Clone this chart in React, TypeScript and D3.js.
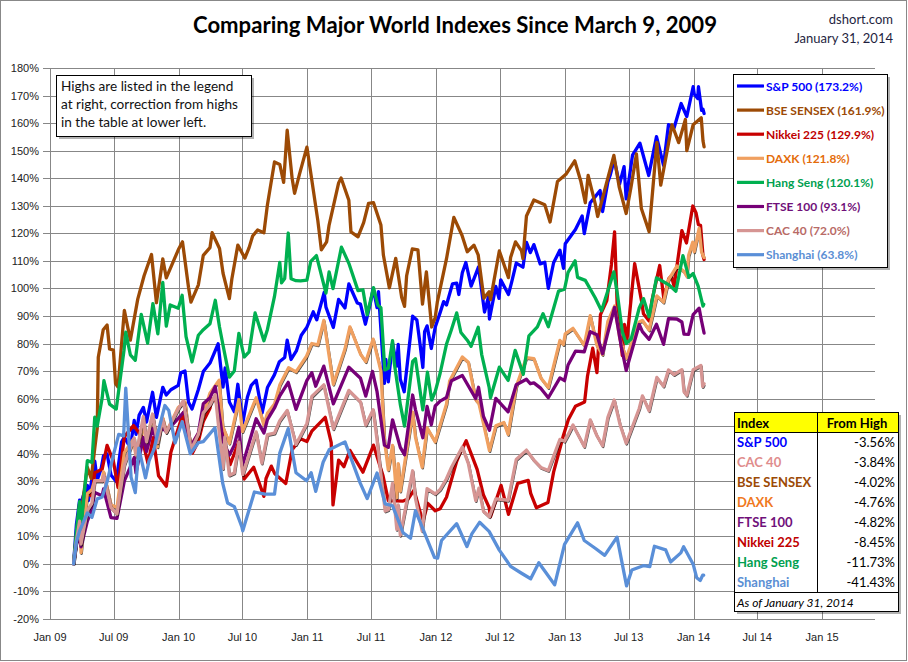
import React from 'react';
import * as d3 from 'd3';

type Pt = [string, number];

const spx: Pt[] = [["2009-03-09",0],["2009-03-17",14.4],["2009-03-26",23.1],["2009-03-30",16.4],["2009-04-02",23.3],["2009-04-09",26.3],["2009-04-17",28.5],["2009-04-20",23.0],["2009-05-08",37.3],["2009-05-15",30.5],["2009-05-26",34.5],["2009-06-02",39.3],["2009-06-12",39.9],["2009-06-23",32.3],["2009-07-08",29.9],["2009-07-23",44.2],["2009-07-31",46.0],["2009-08-17",42.2],["2009-08-28",52.1],["2009-09-02",47.0],["2009-09-11",54.0],["2009-09-23",56.8],["2009-10-02",51.5],["2009-10-19",62.3],["2009-10-30",53.2],["2009-11-17",64.1],["2009-11-27",61.3],["2009-12-10",63.2],["2009-12-31",64.8],["2010-01-07",69.4],["2010-01-19",70.0],["2010-01-29",58.7],["2010-02-08",56.2],["2010-02-26",63.3],["2010-03-12",69.8],["2010-03-31",72.9],["2010-04-23",79.9],["2010-05-07",64.2],["2010-05-13",71.1],["2010-05-25",58.8],["2010-06-08",55.2],["2010-06-18",65.2],["2010-07-02",51.2],["2010-07-15",60.5],["2010-07-26",64.8],["2010-08-09",66.7],["2010-08-26",54.8],["2010-09-10",64.0],["2010-09-30",68.7],["2010-10-14",73.4],["2010-10-29",74.9],["2010-11-05",81.2],["2010-11-16",74.2],["2010-12-01",77.3],["2010-12-15",83.0],["2010-12-31",85.9],["2011-01-18",91.5],["2011-01-28",88.6],["2011-01-31",90.1],["2011-02-18",98.5],["2011-02-23",93.2],["2011-03-16",85.8],["2011-03-31",96.0],["2011-04-18",92.9],["2011-04-29",101.6],["2011-05-23",94.7],["2011-06-01",94.3],["2011-06-15",87.0],["2011-06-30",95.2],["2011-07-07",100.0],["2011-07-18",93.0],["2011-07-22",98.8],["2011-08-08",65.5],["2011-08-12",74.2],["2011-08-19",66.1],["2011-08-31",80.2],["2011-09-12",71.8],["2011-09-16",79.7],["2011-09-22",67.0],["2011-10-03",62.5],["2011-10-27",89.9],["2011-11-08",88.5],["2011-11-17",79.8],["2011-11-25",71.3],["2011-11-30",84.3],["2011-12-07",86.4],["2011-12-19",78.2],["2011-12-30",85.9],["2012-01-13",91.2],["2012-01-23",95.2],["2012-01-31",94.0],["2012-02-17",101.6],["2012-02-29",101.9],["2012-03-06",97.8],["2012-03-16",105.7],["2012-03-26",109.4],["2012-04-10",100.8],["2012-05-01",107.8],["2012-05-18",91.4],["2012-05-29",96.9],["2012-06-01",88.9],["2012-06-19",100.7],["2012-06-28",96.4],["2012-07-03",103.1],["2012-07-25",97.8],["2012-08-03",102.3],["2012-08-16",109.2],["2012-09-04",107.7],["2012-09-14",116.7],["2012-09-25",113.0],["2012-10-05",115.9],["2012-10-23",108.9],["2012-11-05",109.5],["2012-11-15",100.0],["2012-11-30",109.3],["2012-12-18",113.9],["2012-12-28",107.3],["2013-01-02",116.2],["2013-01-31",121.4],["2013-02-19",126.3],["2013-02-25",119.9],["2013-03-14",131.1],["2013-04-11",135.5],["2013-04-18",127.9],["2013-05-03",138.6],["2013-05-10",141.3],["2013-05-21",146.7],["2013-06-05",137.8],["2013-06-18",144.2],["2013-06-24",132.5],["2013-07-12",148.4],["2013-08-02",152.7],["2013-08-27",141.0],["2013-09-18",155.1],["2013-10-08",144.7],["2013-10-22",159.4],["2013-11-07",158.3],["2013-11-27",167.1],["2013-12-03",165.3],["2013-12-13",162.4],["2013-12-31",173.2],["2014-01-03",170.6],["2014-01-13",168.9],["2014-01-15",173.2],["2014-01-24",164.6],["2014-01-28",165.0],["2014-01-31",163.5]];

const sensex: Pt[] = [["2009-03-09",0],["2009-03-17",7.5],["2009-03-26",18.5],["2009-03-31",19.0],["2009-04-17",35.1],["2009-04-28",31.0],["2009-05-08",42.0],["2009-05-15",49.2],["2009-05-18",75.0],["2009-06-01",85.0],["2009-06-12",86.7],["2009-06-19",78.0],["2009-06-30",77.6],["2009-07-06",65.5],["2009-07-13",64.2],["2009-07-31",92.0],["2009-08-17",81.2],["2009-09-07",96.1],["2009-09-25",104.6],["2009-10-16",112.3],["2009-10-30",94.8],["2009-11-17",110.7],["2009-11-27",103.8],["2009-12-31",114.0],["2010-01-12",116.9],["2010-01-29",100.4],["2010-02-05",95.0],["2010-02-26",101.3],["2010-03-12",112.0],["2010-03-31",114.8],["2010-04-06",120.2],["2010-04-27",114.5],["2010-05-07",105.5],["2010-05-25",96.3],["2010-06-01",103.4],["2010-06-18",115.7],["2010-07-08",111.0],["2010-07-20",114.8],["2010-07-30",119.0],["2010-08-13",121.2],["2010-08-31",120.2],["2010-09-10",130.4],["2010-09-30",145.9],["2010-10-15",145.0],["2010-10-26",138.5],["2010-11-05",157.4],["2010-11-19",140.0],["2010-11-26",134.5],["2010-12-10",141.5],["2010-12-31",151.3],["2011-01-31",124.6],["2011-02-10",114.0],["2011-02-25",116.9],["2011-03-04",123.0],["2011-03-31",138.3],["2011-04-07",140.1],["2011-04-29",132.0],["2011-05-05",120.5],["2011-05-25",118.7],["2011-06-10",123.9],["2011-06-24",130.9],["2011-07-08",131.1],["2011-07-29",123.0],["2011-08-05",112.1],["2011-08-22",100.2],["2011-09-09",110.9],["2011-09-26",96.7],["2011-10-04",93.5],["2011-10-10",104.6],["2011-10-26",114.3],["2011-11-11",114.0],["2011-11-24",94.3],["2011-12-05",106.0],["2011-12-20",86.0],["2011-12-30",89.4],["2012-01-05",95.0],["2012-01-31",110.7],["2012-02-21",125.8],["2012-03-15",119.3],["2012-03-30",113.3],["2012-04-18",115.7],["2012-04-30",112.2],["2012-05-16",96.4],["2012-05-31",98.8],["2012-06-04",95.9],["2012-06-29",113.6],["2012-07-25",103.9],["2012-07-31",111.2],["2012-08-14",116.9],["2012-08-31",113.6],["2012-09-04",110.8],["2012-09-14",126.3],["2012-10-05",132.1],["2012-11-05",130.4],["2012-11-20",124.1],["2012-12-11",138.8],["2013-01-04",141.4],["2013-01-29",146.3],["2013-02-15",139.0],["2013-02-28",131.1],["2013-03-08",141.0],["2013-03-28",130.8],["2013-04-04",126.1],["2013-04-18",132.8],["2013-05-20",148.3],["2013-06-04",136.9],["2013-06-24",127.2],["2013-07-08",137.0],["2013-07-23",148.8],["2013-08-06",129.0],["2013-08-28",120.6],["2013-09-19",153.0],["2013-09-30",137.5],["2013-11-01",159.4],["2013-11-20",152.9],["2013-12-09",161.3],["2013-12-13",150.0],["2013-12-31",159.4],["2014-01-23",161.9],["2014-01-28",153.5],["2014-01-31",151.4]];

const nikkei: Pt[] = [["2009-03-09",0],["2009-03-17",10.5],["2009-03-26",21.9],["2009-03-31",14.4],["2009-04-17",25.7],["2009-04-30",24.6],["2009-05-08",33.1],["2009-05-29",34.4],["2009-06-12",43.0],["2009-06-30",37.2],["2009-07-13",27.7],["2009-07-31",46.2],["2009-08-26",50.2],["2009-09-18",46.3],["2009-10-06",36.5],["2009-10-21",45.8],["2009-11-05",32.0],["2009-11-27",28.2],["2009-12-10",40.5],["2009-12-30",48.8],["2010-01-15",55.0],["2010-01-29",43.9],["2010-02-09",40.2],["2010-02-26",44.5],["2010-03-12",51.7],["2010-03-31",56.5],["2010-04-05",60.0],["2010-04-27",58.2],["2010-05-07",46.3],["2010-05-27",36.0],["2010-06-21",44.5],["2010-07-06",30.8],["2010-08-02",35.1],["2010-08-31",24.5],["2010-09-06",31.0],["2010-09-21",35.5],["2010-10-01",32.7],["2010-11-01",29.2],["2010-11-19",41.4],["2010-12-13",45.4],["2010-12-31",44.4],["2011-01-14",48.2],["2011-02-21",53.2],["2011-03-10",44.0],["2011-03-15",21.4],["2011-03-31",37.7],["2011-04-15",35.3],["2011-05-02",41.2],["2011-06-08",33.3],["2011-07-08",43.1],["2011-08-04",32.0],["2011-08-19",23.0],["2011-09-30",22.8],["2011-10-14",23.5],["2011-10-31",26.8],["2011-11-25",15.2],["2011-12-09",22.0],["2011-12-30",19.3],["2012-01-13",20.0],["2012-01-31",24.2],["2012-02-29",37.2],["2012-03-09",40.0],["2012-03-27",44.7],["2012-04-27",34.3],["2012-05-15",25.0],["2012-05-31",20.5],["2012-06-04",17.1],["2012-07-04",28.5],["2012-07-25",18.0],["2012-08-20",29.2],["2012-09-19",30.3],["2012-09-26",25.6],["2012-10-12",20.4],["2012-11-14",22.3],["2012-11-30",33.3],["2012-12-28",46.7],["2013-01-11",52.4],["2013-01-31",57.2],["2013-02-26",58.8],["2013-03-06",68.0],["2013-03-21",78.3],["2013-04-02",69.4],["2013-04-12",90.5],["2013-04-30",95.6],["2013-05-13",108.6],["2013-05-22",120.5],["2013-05-30",91.8],["2013-06-13",75.6],["2013-06-19",86.9],["2013-06-26",81.1],["2013-07-18",109.0],["2013-08-07",95.1],["2013-08-12",90.8],["2013-08-28",88.2],["2013-09-05",95.6],["2013-09-27",108.3],["2013-10-09",96.1],["2013-10-23",103.6],["2013-10-30",104.6],["2013-11-07",100.8],["2013-11-29",121.0],["2013-12-12",116.5],["2013-12-30",129.9],["2014-01-08",127.5],["2014-01-15",123.1],["2014-01-21",122.9],["2014-01-28",111.8],["2014-01-31",110.5]];

const daxk: Pt[] = [["2009-03-09",0],["2009-03-17",8.0],["2009-03-26",15.3],["2009-03-30",4.1],["2009-04-17",25.5],["2009-04-30",27.0],["2009-05-08",30.2],["2009-05-29",30.1],["2009-06-02",33.4],["2009-06-23",21.5],["2009-07-10",20.5],["2009-07-31",40.4],["2009-08-26",45.3],["2009-09-02",39.0],["2009-09-22",51.0],["2009-10-02",43.7],["2009-10-19",54.1],["2009-11-02",42.5],["2009-11-17",53.0],["2009-11-27",47.8],["2009-12-31",56.8],["2010-01-19",58.8],["2010-01-29",47.6],["2010-02-05",43.0],["2010-02-26",47.4],["2010-03-12",54.0],["2010-03-31",62.0],["2010-04-26",66.7],["2010-05-06",49.9],["2010-05-25",43.8],["2010-06-21",59.6],["2010-07-01",48.0],["2010-08-09",60.3],["2010-08-31",50.3],["2010-09-10",54.7],["2010-09-30",58.0],["2010-10-15",64.9],["2010-11-09",71.2],["2010-11-30",69.7],["2010-12-30",75.4],["2011-01-14",80.0],["2011-01-31",79.5],["2011-02-17",88.4],["2011-03-16",65.2],["2011-04-18",78.0],["2011-05-02",86.0],["2011-06-01",76.2],["2011-06-16",73.4],["2011-07-07",81.6],["2011-07-29",70.0],["2011-08-08",44.9],["2011-08-19",34.1],["2011-08-31",43.0],["2011-09-12",24.1],["2011-09-16",36.4],["2011-09-22",26.4],["2011-10-27",55.1],["2011-11-04",46.0],["2011-11-23",35.1],["2011-12-07",49.4],["2011-12-30",44.3],["2012-01-13",50.3],["2012-01-31",58.0],["2012-02-09",66.4],["2012-03-16",75.1],["2012-04-02",73.2],["2012-04-23",59.6],["2012-05-02",58.3],["2012-05-15",51.0],["2012-06-01",41.1],["2012-06-19",50.1],["2012-07-12",51.3],["2012-07-24",47.0],["2012-08-16",64.4],["2012-09-14",74.9],["2012-10-05",74.5],["2012-10-25",67.5],["2012-11-15",64.0],["2012-12-18",81.1],["2012-12-28",79.6],["2013-01-02",83.5],["2013-01-24",85.5],["2013-02-25",79.3],["2013-03-14",90.1],["2013-04-02",79.3],["2013-04-18",76.0],["2013-05-03",88.0],["2013-05-22",93.6],["2013-06-06",81.6],["2013-06-24",74.6],["2013-07-31",87.8],["2013-08-09",88.4],["2013-08-28",84.9],["2013-09-19",97.3],["2013-10-08",95.0],["2013-10-22",103.1],["2013-11-15",108.1],["2013-12-05",106.2],["2013-12-13",104.4],["2013-12-18",111.9],["2013-12-30",116.8],["2014-01-03",113.3],["2014-01-17",121.8],["2014-01-24",113.1],["2014-01-31",111.2]];

const hangseng: Pt[] = [["2009-03-09",0],["2009-03-17",12.0],["2009-03-26",22.6],["2009-03-30",13.1],["2009-04-17",37.5],["2009-04-30",36.8],["2009-05-08",53.3],["2009-05-15",50.0],["2009-05-29",60.2],["2009-06-03",66.5],["2009-06-19",58.0],["2009-07-08",56.2],["2009-07-30",77.5],["2009-08-04",84.1],["2009-08-17",75.9],["2009-08-31",73.9],["2009-09-17",90.6],["2009-10-05",80.1],["2009-10-20",94.5],["2009-11-03",83.5],["2009-11-17",102.2],["2009-11-27",86.3],["2009-12-08",94.0],["2009-12-31",92.8],["2010-01-11",97.5],["2010-01-22",82.5],["2010-02-08",73.3],["2010-02-26",83.0],["2010-03-12",85.0],["2010-03-31",87.2],["2010-04-15",95.7],["2010-04-27",86.0],["2010-05-06",80.0],["2010-05-25",67.8],["2010-06-08",70.0],["2010-06-21",83.7],["2010-07-06",75.1],["2010-07-20",77.0],["2010-08-06",91.1],["2010-08-31",81.0],["2010-09-10",85.1],["2010-09-30",97.1],["2010-10-15",109.4],["2010-10-20",102.0],["2010-10-29",103.6],["2010-11-08",120.1],["2010-11-16",103.5],["2010-11-30",102.8],["2010-12-13",102.7],["2010-12-31",103.0],["2011-01-11",109.8],["2011-01-27",111.9],["2011-02-23",98.3],["2011-03-04",106.0],["2011-03-15",99.9],["2011-04-08",115.0],["2011-04-29",109.1],["2011-05-25",99.2],["2011-06-08",99.5],["2011-06-20",90.4],["2011-07-08",100.3],["2011-07-20",94.0],["2011-07-29",93.0],["2011-08-09",70.4],["2011-08-19",71.0],["2011-08-31",81.0],["2011-09-05",72.8],["2011-09-22",57.9],["2011-10-04",50.0],["2011-10-27",73.5],["2011-11-04",74.5],["2011-11-25",55.9],["2011-12-08",69.6],["2011-12-20",59.5],["2011-12-30",62.5],["2012-01-13",69.2],["2012-01-31",79.7],["2012-02-14",85.0],["2012-02-29",91.1],["2012-03-12",84.0],["2012-03-30",81.2],["2012-04-10",79.0],["2012-04-30",85.9],["2012-05-10",76.0],["2012-05-31",64.2],["2012-06-04",60.3],["2012-06-29",71.4],["2012-07-24",66.6],["2012-08-13",77.5],["2012-09-05",68.8],["2012-09-21",82.8],["2012-10-15",86.0],["2012-10-31",90.8],["2012-11-15",86.1],["2012-12-14",99.0],["2012-12-31",99.7],["2013-01-10",105.8],["2013-01-30",110.0],["2013-02-06",104.0],["2013-02-28",102.9],["2013-03-28",96.6],["2013-04-15",91.9],["2013-05-20",106.0],["2013-05-30",98.0],["2013-06-13",84.3],["2013-06-24",80.0],["2013-07-08",81.6],["2013-07-31",92.9],["2013-08-12",96.3],["2013-08-28",89.7],["2013-09-18",103.8],["2013-10-09",102.3],["2013-10-23",101.3],["2013-11-12",99.0],["2013-12-02",111.9],["2013-12-19",104.0],["2013-12-31",105.4],["2014-01-14",100.9],["2014-01-28",93.6],["2014-01-30",94.2]];

const ftse: Pt[] = [["2009-03-09",0],["2009-03-17",7.0],["2009-03-26",10.8],["2009-03-30",6.2],["2009-04-17",15.5],["2009-04-30",19.8],["2009-05-08",25.9],["2009-05-29",24.7],["2009-06-02",27.2],["2009-06-23",16.8],["2009-07-10",16.5],["2009-07-31",30.1],["2009-08-28",38.6],["2009-09-02",33.0],["2009-09-23",45.8],["2009-10-02",40.8],["2009-10-19",49.1],["2009-11-02",44.1],["2009-11-13",49.5],["2009-11-27",48.1],["2009-12-31",52.8],["2010-01-19",55.6],["2010-01-29",46.5],["2010-02-05",42.8],["2010-02-26",47.5],["2010-03-12",58.1],["2010-03-31",60.3],["2010-04-15",64.4],["2010-05-07",44.6],["2010-05-25",39.5],["2010-06-08",43.1],["2010-06-21",49.6],["2010-07-01",35.6],["2010-08-09",52.7],["2010-08-31",47.5],["2010-09-10",52.4],["2010-09-30",56.6],["2010-10-15",61.0],["2010-11-08",65.9],["2010-11-30",56.1],["2010-12-31",66.6],["2011-01-14",69.4],["2011-01-25",64.5],["2011-02-17",71.8],["2011-03-16",58.1],["2011-04-29",71.4],["2011-06-01",67.4],["2011-06-16",60.9],["2011-07-05",69.9],["2011-07-18",62.5],["2011-08-08",43.1],["2011-08-19",42.3],["2011-08-31",52.3],["2011-09-22",42.3],["2011-10-04",39.6],["2011-10-27",61.3],["2011-11-04",56.0],["2011-11-25",45.8],["2011-12-07",57.2],["2011-12-19",50.5],["2011-12-30",57.3],["2012-01-13",59.1],["2012-01-31",60.4],["2012-02-14",66.5],["2012-03-16",68.4],["2012-04-23",60.0],["2012-05-01",64.1],["2012-05-15",53.5],["2012-06-01",48.5],["2012-06-19",60.1],["2012-07-24",55.2],["2012-08-16",65.0],["2012-09-14",67.0],["2012-09-25",65.4],["2012-10-05",65.7],["2012-10-25",63.7],["2012-11-15",60.3],["2012-12-18",67.5],["2012-12-31",66.5],["2013-01-10",72.2],["2013-01-31",77.2],["2013-02-25",77.0],["2013-03-14",84.3],["2013-04-02",83.2],["2013-04-18",76.3],["2013-05-03",84.0],["2013-05-22",93.1],["2013-06-10",79.0],["2013-06-24",70.2],["2013-07-31",86.9],["2013-08-09",84.3],["2013-08-28",81.5],["2013-09-18",87.0],["2013-10-08",79.7],["2013-10-22",89.0],["2013-11-15",88.9],["2013-11-29",87.8],["2013-12-05",83.4],["2013-12-18",83.3],["2013-12-31",90.5],["2014-01-17",92.8],["2014-01-24",88.1],["2014-01-31",83.8]];

const cac: Pt[] = [["2009-03-09",0],["2009-03-17",8.5],["2009-03-26",15.5],["2009-03-30",7.2],["2009-04-17",19.4],["2009-04-30",22.0],["2009-05-08",30.2],["2009-05-29",30.1],["2009-06-03",32.0],["2009-06-23",20.5],["2009-07-10",18.1],["2009-07-31",36.0],["2009-08-28",45.7],["2009-09-02",39.5],["2009-09-23",53.5],["2009-10-02",44.3],["2009-10-19",54.4],["2009-11-02",43.9],["2009-11-17",52.2],["2009-11-27",47.7],["2009-12-31",56.2],["2010-01-14",59.2],["2010-01-29",48.4],["2010-02-05",41.4],["2010-02-26",47.0],["2010-03-12",54.8],["2010-03-31",57.7],["2010-04-15",61.4],["2010-05-07",34.6],["2010-05-12",46.0],["2010-05-25",32.2],["2010-06-08",33.0],["2010-06-21",44.2],["2010-07-02",32.4],["2010-08-09",47.9],["2010-08-25",36.6],["2010-09-10",46.9],["2010-09-30",47.5],["2010-10-15",52.0],["2010-11-05",55.7],["2010-11-30",43.3],["2010-12-31",51.0],["2011-01-14",60.8],["2011-02-17",65.0],["2011-03-16",49.0],["2011-04-29",63.0],["2011-06-01",58.8],["2011-06-16",50.4],["2011-07-07",56.0],["2011-07-18",45.0],["2011-08-10",19.2],["2011-08-19",19.7],["2011-08-31",29.2],["2011-09-12",12.5],["2011-09-16",21.4],["2011-09-22",10.4],["2011-10-27",33.8],["2011-11-04",23.8],["2011-11-23",12.0],["2011-12-07",27.3],["2011-12-30",25.4],["2012-01-13",27.0],["2012-01-31",30.9],["2012-02-14",35.0],["2012-03-16",42.4],["2012-04-02",36.5],["2012-04-23",23.0],["2012-05-02",27.5],["2012-05-15",19.1],["2012-06-01",17.1],["2012-06-19",23.6],["2012-07-24",23.1],["2012-08-16",37.9],["2012-09-14",41.3],["2012-10-05",37.7],["2012-10-25",35.0],["2012-11-15",33.9],["2012-12-18",45.2],["2012-12-31",44.5],["2013-01-10",46.9],["2013-01-24",50.4],["2013-02-25",42.6],["2013-03-14",52.3],["2013-04-02",46.5],["2013-04-18",42.9],["2013-05-03",53.2],["2013-05-21",59.5],["2013-06-06",50.8],["2013-06-24",43.8],["2013-07-31",56.4],["2013-08-09",61.0],["2013-08-28",55.6],["2013-09-19",67.7],["2013-10-08",64.5],["2013-10-22",70.4],["2013-11-07",68.7],["2013-11-29",70.5],["2013-12-05",62.5],["2013-12-13",61.2],["2013-12-31",70.5],["2014-01-22",72.0],["2014-01-27",64.4],["2014-01-31",65.4]];

const shanghai: Pt[] = [["2009-03-09",0],["2009-03-17",8.0],["2009-03-26",12.0],["2009-04-17",18.5],["2009-04-30",16.9],["2009-05-15",23.6],["2009-05-29",24.3],["2009-06-12",29.8],["2009-06-30",39.6],["2009-07-15",47.0],["2009-07-29",46.5],["2009-08-04",63.8],["2009-08-19",31.5],["2009-08-31",25.9],["2009-09-10",42.0],["2009-09-29",31.2],["2009-10-09",37.4],["2009-10-23",41.6],["2009-11-02",47.0],["2009-11-23",57.5],["2009-12-04",55.7],["2009-12-22",43.9],["2010-01-11",51.6],["2010-02-03",40.0],["2010-02-26",44.0],["2010-03-12",44.4],["2010-04-14",49.4],["2010-05-06",29.3],["2010-05-20",22.1],["2010-06-08",20.8],["2010-06-30",13.2],["2010-07-02",12.0],["2010-08-04",26.1],["2010-09-03",25.3],["2010-09-30",25.3],["2010-10-15",40.2],["2010-11-08",49.1],["2010-11-30",33.1],["2010-12-30",30.2],["2011-01-12",33.1],["2011-01-25",26.3],["2011-02-15",36.9],["2011-03-04",41.4],["2011-04-18",44.3],["2011-05-31",29.4],["2011-06-20",23.7],["2011-07-18",33.0],["2011-08-10",21.8],["2011-08-31",21.1],["2011-09-30",11.3],["2011-10-21",9.3],["2011-11-04",19.3],["2011-12-28",2.4],["2012-01-06",2.1],["2012-01-17",8.5],["2012-02-29",14.6],["2012-03-29",6.3],["2012-04-12",10.9],["2012-05-04",15.1],["2012-05-31",11.8],["2012-06-29",5.0],["2012-07-31",-0.9],["2012-08-31",-3.4],["2012-09-26",-5.4],["2012-10-19",0.4],["2012-12-03",-7.6],["2012-12-31",7.1],["2013-02-06",14.9],["2013-02-25",8.5],["2013-03-29",5.6],["2013-04-24",3.1],["2013-05-29",9.7],["2013-06-25",-8.0],["2013-07-10",-2.2],["2013-08-13",-0.6],["2013-08-30",-1.0],["2013-09-12",6.4],["2013-10-14",5.1],["2013-10-28",0.7],["2013-11-26",4.0],["2013-12-04",6.2],["2013-12-31",-0.1],["2014-01-10",-5.0],["2014-01-20",-6.0],["2014-01-27",-4.1],["2014-01-30",-4.1]];

const seriesData: Pt[][] = [spx, sensex, nikkei, daxk, hangseng, ftse, cac, shanghai];
const seriesNames = ["S&P 500", "BSE SENSEX", "Nikkei 225", "DAXK", "Hang Seng", "FTSE 100", "CAC 40", "Shanghai"];
const seriesHighs = ["173.2%", "161.9%", "129.9%", "121.8%", "120.1%", "93.1%", "72.0%", "63.8%"];
const lineColors = ["#0000FF", "#9C4A05", "#C80000", "#F0A060", "#00B050", "#760077", "#D69593", "#5A8FD8"];
const legendTextColors = ["#0000FF", "#9C4A05", "#C00000", "#E46C0A", "#00A050", "#70107A", "#B86A66", "#5B8FD4"];
const shadowed = [false, false, false, true, false, false, true, false];

const tableNames = ["S&P 500", "CAC 40", "BSE SENSEX", "DAXK", "FTSE 100", "Nikkei 225", "Hang Seng", "Shanghai"];
const tableValues = ["-3.56%", "-3.84%", "-4.02%", "-4.76%", "-4.82%", "-8.45%", "-11.73%", "-41.43%"];
const tableColors = ["#0000FF", "#E08C8C", "#9C4A05", "#F07820", "#70107A", "#C00000", "#00A050", "#5B8FD4"];

const yTickValues = d3.range(-20, 181, 10);
const xTickDates = ["2009-01-01", "2009-07-01", "2010-01-01", "2010-07-01", "2011-01-01", "2011-07-01", "2012-01-01", "2012-07-01", "2013-01-01", "2013-07-01", "2014-01-01", "2014-07-01", "2015-01-01"];
const noteLines = ["Highs are listed in the legend", "at right, correction from highs", "in the table at lower left."];

const W = 908, H = 662;
const L = 50, R = 875, T = 68, B = 619;
const FONT = "Lato, 'Open Sans', sans-serif";

export default function App() {
  const parse = d3.timeParse("%Y-%m-%d");
  const x = d3.scaleTime().domain([parse("2009-01-01")!, parse("2015-05-31")!]).range([L, R]);
  const y = d3.scaleLinear().domain([-20, 180]).range([B, T]);
  const fmt = d3.timeFormat("%b %y");
  const line = d3.line<Pt>().x(d => x(parse(d[0])!)).y(d => y(d[1]));
  const grid = "#878787";
  const sorted = seriesData.map(s => s.slice().sort((a, b) => d3.ascending(a[0], b[0])));

  return (
    <svg width={W} height={H} style={{ position: "absolute", left: 0, top: 0, background: "#fff" }} xmlns="http://www.w3.org/2000/svg">
      <rect x={0.5} y={0.5} width={W - 2} height={H - 2} fill="#fff" stroke="#888" />
      <text x={455} y={33} textAnchor="middle" fontFamily={FONT} fontWeight={700} fontSize={22} fill="#000" textLength={524} lengthAdjust="spacingAndGlyphs">Comparing Major World Indexes Since March 9, 2009</text>
      <text x={893} y={24} textAnchor="end" fontFamily={FONT} fontSize={13} fill="#1f1f3f">dshort.com</text>
      <text x={893} y={43} textAnchor="end" fontFamily={FONT} fontSize={13} fill="#1f1f3f">January 31, 2014</text>

      {yTickValues.map(v => (
        <g key={"y" + v}>
          <line x1={L - 7} x2={R} y1={Math.round(y(v)) + 0.5} y2={Math.round(y(v)) + 0.5} stroke={grid} strokeWidth={1} />
          <text x={39} y={y(v) + 4} textAnchor="end" fontFamily="'Liberation Sans', Arial, sans-serif" fontSize={11} fill="#222">{v + "%"}</text>
        </g>
      ))}
      {xTickDates.map(s => {
        const d = parse(s)!;
        const px = Math.round(x(d)) + 0.5;
        return (
          <g key={"x" + s}>
            <line x1={px} x2={px} y1={T} y2={B} stroke={grid} strokeWidth={1} />
            <text x={x(d)} y={641} textAnchor="middle" fontFamily="'Liberation Sans', Arial, sans-serif" fontSize={11} fill="#222">{fmt(d)}</text>
          </g>
        );
      })}

      {sorted.map((data, i) => (
        <g key={"s" + i}>
          {shadowed[i] && (
            <path d={line(data) || ""} fill="none" stroke="#000" strokeWidth={2.6} strokeLinejoin="round" transform="translate(0.6,1.1)" opacity={0.7} />
          )}
          <path d={line(data) || ""} fill="none" stroke={lineColors[i]} strokeWidth={3.3} strokeLinejoin="round" strokeLinecap="round" />
        </g>
      ))}

      <rect x={59} y={78} width={195} height={61} fill="#000" opacity={0.3} />
      <rect x={56.5} y={75.5} width={195} height={61} fill="#fff" stroke="#000" />
      {noteLines.map((t, i) => (
        <text key={"n" + i} x={61} y={91 + i * 17.8} fontFamily={FONT} fontSize={13.6} fill="#111">{t}</text>
      ))}

      <rect x={736} y={77} width={154} height={193} fill="#000" opacity={0.3} />
      <rect x={733.5} y={74.5} width={154} height={193} fill="#fff" stroke="#000" />
      {seriesNames.map((n, i) => {
        const cy = 86 + i * 24.1;
        return (
          <g key={"l" + i}>
            <line x1={737} x2={764} y1={cy} y2={cy} stroke={lineColors[i]} strokeWidth={3.2} />
            <text x={766} y={cy + 4.5} fontFamily={FONT} fontWeight={700} fontSize={12} fill={legendTextColors[i]}>{`${n} (${seriesHighs[i]})`}</text>
          </g>
        );
      })}

      <rect x={737} y={415} width={164} height={199} fill="#000" opacity={0.3} />
      <rect x={734.5} y={412.5} width={164} height={199} fill="#fff" stroke="#000" />
      <rect x={735} y={413} width={163} height={19} fill="#FFFF00" />
      <line x1={734.5} x2={898.5} y1={432.5} y2={432.5} stroke="#000" />
      <line x1={734.5} x2={898.5} y1={592.5} y2={592.5} stroke="#000" />
      <line x1={817.5} x2={817.5} y1={412.5} y2={592.5} stroke="#000" />
      <text x={737} y={428} fontFamily={FONT} fontWeight={700} fontSize={13} fill="#000">Index</text>
      <text x={857} y={428} textAnchor="middle" fontFamily={FONT} fontWeight={700} fontSize={13} fill="#000">From High</text>
      {tableNames.map((n, i) => (
        <g key={"t" + i}>
          <text x={737} y={447 + i * 20} fontFamily={FONT} fontWeight={700} fontSize={13} fill={tableColors[i]}>{n}</text>
          <text x={895} y={447 + i * 20} textAnchor="end" fontFamily={FONT} fontSize={13} fill="#000">{tableValues[i]}</text>
        </g>
      ))}
      <text x={737} y={607} fontFamily={FONT} fontStyle="italic" fontSize={12} fill="#000">As of January 31, 2014</text>
    </svg>
  );
}
